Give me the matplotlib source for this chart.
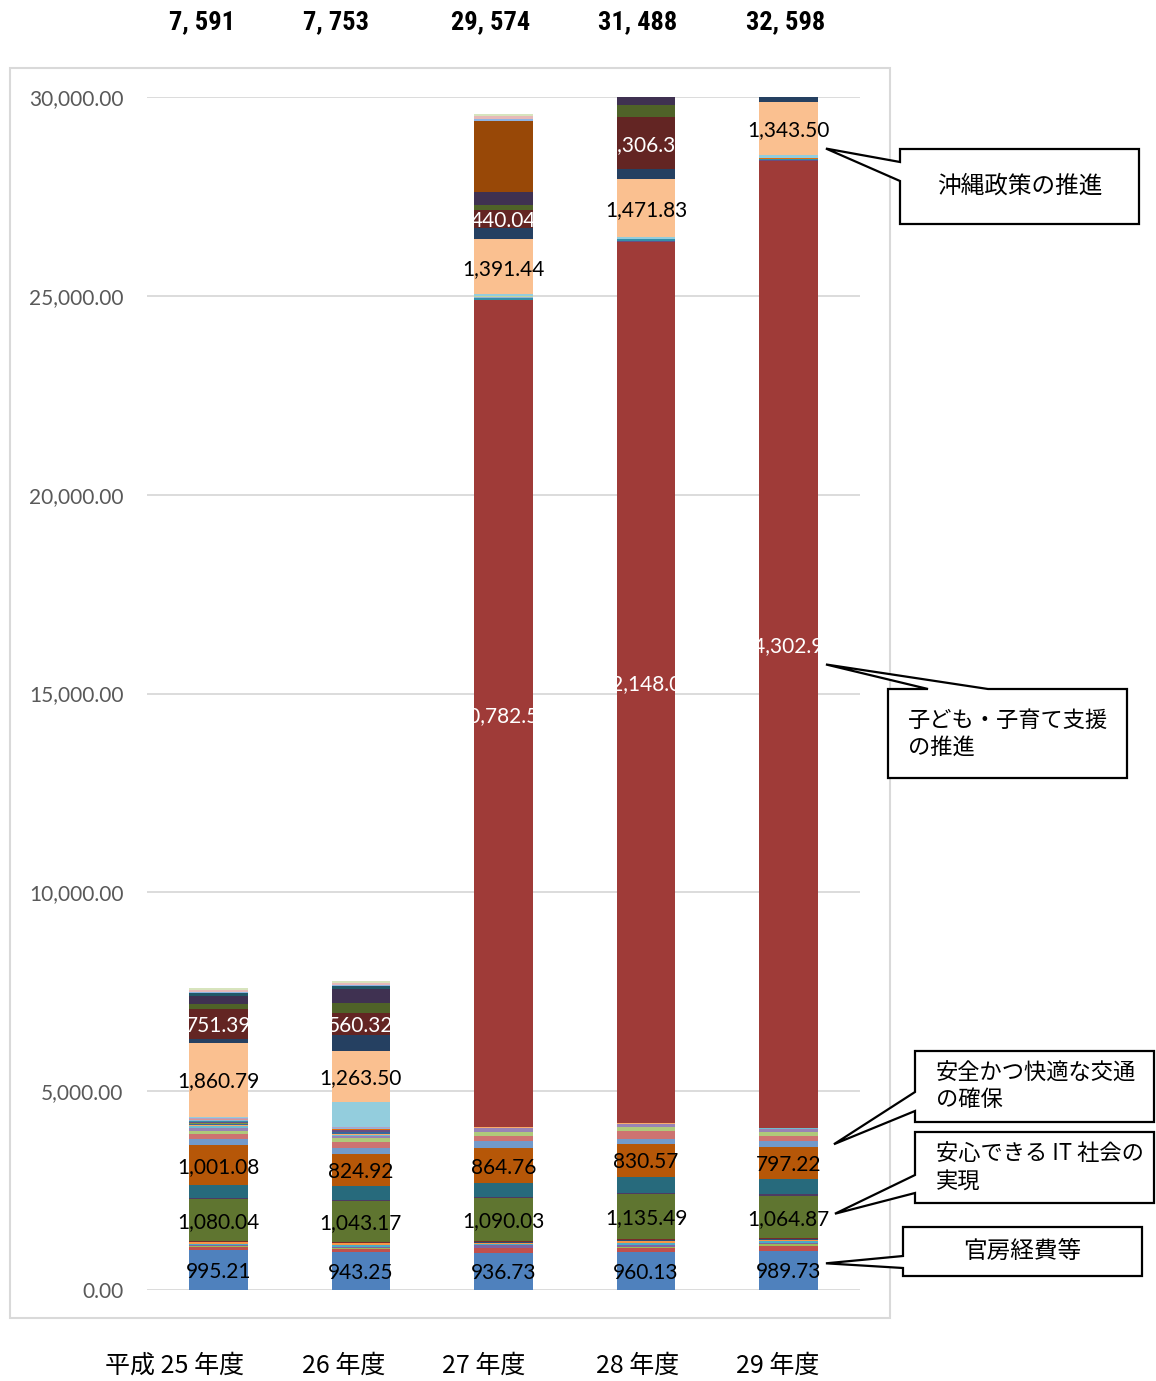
import matplotlib
matplotlib.use('Agg')
import matplotlib.pyplot as plt
from matplotlib.patches import Rectangle, Polygon
import numpy as np

# ---- data (oku yen), stacked bottom -> top ----
categories = ['平成 25 年度', '26 年度', '27 年度', '28 年度', '29 年度']
totals = [7591, 7753, 29574, 31488, 32598]

kanbo = [995.21, 943.25, 936.73, 960.13, 989.73]          # 官房経費等
low_misc = [
    [90, 90, 110, 90, 120],
    [25, 30, 20, 40, 40],
    [30, 20, 60, 50, 30],
    [25, 60, 30, 40, 40],
    [30, 30, 30, 40, 30],
    [15, 20, 20, 30, 40],
    [10, 10, 20, 40, 20],
]
it_society = [1080.04, 1043.17, 1090.03, 1135.49, 1064.87]  # 安心できるIT社会の実現
mid_misc1 = [
    [10, 10, 10, 10, 30],
    [335, 350, 370, 410, 385],
]
traffic = [1001.08, 824.92, 864.76, 830.57, 797.22]         # 安全かつ快適な交通の確保
mid_misc2 = [
    [150, 130, 185, 130, 160],
    [130, 170, 125, 185, 125],
    [80, 80, 100, 100, 100],
    [80, 60, 100, 80, 80],
    [40, 30, 10, 10, 10],
    [30, 30, 10, 10, 10],
    [30, 30, 10, 10, 10],
]
kodomo = [0, 0, 20782.54, 22148.06, 24302.95]                # 子ども・子育て支援の推進
mid_misc3 = [
    [20, 20, 10, 10, 10],
    [20, 30, 10, 30, 10],
    [20, 20, 30, 40, 40],
    [15, 20, 10, 0, 10],
    [15, 10, 20, 0, 10],
    [15, 10, 10, 0, 10],
    [15, 10, 10, 0, 0],
    [15, 10, 10, 0, 0],
    [40, 645, 40, 47, 60],
]
okinawa = [1860.79, 1263.50, 1391.44, 1471.83, 1343.50]     # 沖縄政策の推進
navy_seg = [100, 400, 290, 250, 300]
darkred_seg = [751.39, 560.32, 440.04, 1306.34, 1300]
top_misc = [
    [110, 260, 140, 300, 300],
    [200, 360, 310, 400, 350],
    [80, 60, 0, 0, 0],
    [0, 0, 1780, 1200, 400],
    [40, 30, 60, 30, 15],
    [40, 60, 80, 30, 15],
    [40, 40, 40, 30, 15],
]

palette = ['#4F81BD', '#C0504D', '#9BBB59', '#8064A2', '#4BACC6', '#F79646',
           '#2C4D75', '#772C2A', '#5F7530', '#4D3B62', '#276A7C', '#B65708',
           '#729ACA', '#CD7371', '#AFC97A', '#9983B5', '#6FBDD1', '#F9AB6B',
           '#3A679C', '#9F3B38', '#7E9C40', '#664F83', '#358EA8', '#E46C0A',
           '#95B3D7', '#D99694', '#C3D69B', '#B3A2C7', '#93CDDD', '#FAC090',
           '#254061', '#632523', '#4F6228', '#3F3151', '#215968', '#984807',
           '#8EB4E3', '#E6B9B8', '#D7E4BD']

series = ([kanbo] + low_misc + [it_society] + mid_misc1 + [traffic] + mid_misc2
          + [kodomo] + mid_misc3 + [okinawa, navy_seg, darkred_seg] + top_misc)
# series index -> label text colour
labelled = {0: 'black', 8: 'black', 11: 'black', 19: 'white', 29: 'black', 31: 'white'}

narrow = ['Liberation Sans Narrow', 'DejaVu Sans Condensed', 'Roboto Condensed',
          'Roboto', 'DejaVu Sans']

W, H = 1156, 1381
fig = plt.figure(figsize=(W / 100, H / 100), dpi=100)


def fx(px):
    return px / W


def fy(py):
    return 1 - py / H


ax = fig.add_axes([fx(147), fy(1290), fx(860) - fx(147), fy(97) - fy(1290)])

# chart frame
fig.patches.append(Rectangle((fx(10), fy(1318)), fx(890) - fx(10), fy(68) - fy(1318),
                             transform=fig.transFigure, fill=False,
                             edgecolor='#D9D9D9', lw=1.5, zorder=0))

x = np.arange(len(categories))
bw = 0.41
bottom = np.zeros(len(categories))
centers = []
for i, vals in enumerate(series):
    vals = np.array(vals, dtype=float)
    ax.bar(x, vals, width=bw, bottom=bottom, color=palette[i % len(palette)],
           linewidth=0, zorder=2)
    centers.append(bottom + vals / 2)
    if i in labelled:
        for j, v in enumerate(vals):
            if v <= 0:
                continue
            ax.text(x[j], bottom[j] + v / 2, f'{v:,.2f}', ha='center', va='center_baseline',
                    fontsize=15, family='Lato', color=labelled[i], zorder=3, clip_on=True)
    bottom = bottom + vals

ax.set_xlim(-0.5, len(categories) - 0.5)
ax.set_ylim(0, 30000)
ax.set_yticks(np.arange(0, 30001, 5000))
ax.set_yticklabels([f'{v:,.2f}' for v in np.arange(0, 30001, 5000)],
                   fontsize=15, family='Lato', color='#595959')
ax.tick_params(axis='y', length=0, pad=17)
ax.set_xticks([])
ax.yaxis.grid(True, color='#D9D9D9', lw=1.3)
ax.set_axisbelow(True)
for s in ax.spines.values():
    s.set_visible(False)

# totals on top and category names below (figure text)
total_px = [202, 336, 491, 638, 786]
for t, px in zip(totals, total_px):
    fig.text(fx(px), fy(22), f'{t:,}'.replace(',', ', '), ha='center', va='center',
             fontsize=19, fontweight='bold', family=narrow)
cat_px = [175, 344, 484, 638, 778]
for c, px in zip(categories, cat_px):
    fig.text(fx(px), fy(1366), c, ha='center', va='center', fontsize=18,
             family=['Liberation Sans Narrow', 'Noto Sans CJK JP'])

# callouts
callouts = [
    dict(lines=['沖縄政策の推進'], idx=29, box=(900, 149, 1139, 224), side='left',
         base=(162, 181), dx=8, dy=20, tx=1020, ha='center', fs=17),
    dict(lines=['子ども・子育て支援', 'の推進'], idx=19, box=(888, 689, 1127, 778), side='top',
         base=(928, 988), dx=8, dy=20, tx=908, ha='left', fs=16),
    dict(lines=['安全かつ快適な交通', 'の確保'], idx=11, box=(915, 1051, 1154, 1122), side='left',
         base=(1092, 1111), dx=16, dy=-19, tx=936, ha='left', fs=16),
    dict(lines=['安心できる IT 社会の', '実現'], idx=8, box=(915, 1132, 1154, 1203), side='left',
         base=(1175, 1193), dx=17, dy=-3, tx=936, ha='left', fs=16),
    dict(lines=['官房経費等'], idx=0, box=(903, 1227, 1142, 1276), side='left',
         base=(1256, 1268), dx=8, dy=-7, tx=1022, ha='center', fs=17),
]
last = len(categories) - 1
for c in callouts:
    xd, yd = ax.transData.transform((x[last] + bw / 2, centers[c['idx']][last]))
    tip = (xd + c['dx'], H - yd + c['dy'])
    x0, y0, x1, y1 = c['box']
    if c['side'] == 'left':
        pts = [(x0, y0), (x1, y0), (x1, y1), (x0, y1), (x0, c['base'][1]), tip, (x0, c['base'][0])]
    else:
        pts = [(x0, y0), (c['base'][0], y0), tip, (c['base'][1], y0), (x1, y0), (x1, y1), (x0, y1)]
    poly = Polygon([(fx(px), fy(py)) for px, py in pts], closed=True, transform=fig.transFigure,
                   facecolor='white', edgecolor='black', lw=1.6, zorder=5)
    fig.patches.append(poly)
    n = len(c['lines'])
    ymid = (y0 + y1) / 2
    for k, line in enumerate(c['lines']):
        ly = ymid + (k - (n - 1) / 2) * 27
        fig.text(fx(c['tx']), fy(ly), line, ha=c['ha'], va='center', fontsize=c['fs'],
                 family=['Noto Sans CJK JP', 'DejaVu Sans'], zorder=6)

fig.savefig('out.png', dpi=100, facecolor='white')
